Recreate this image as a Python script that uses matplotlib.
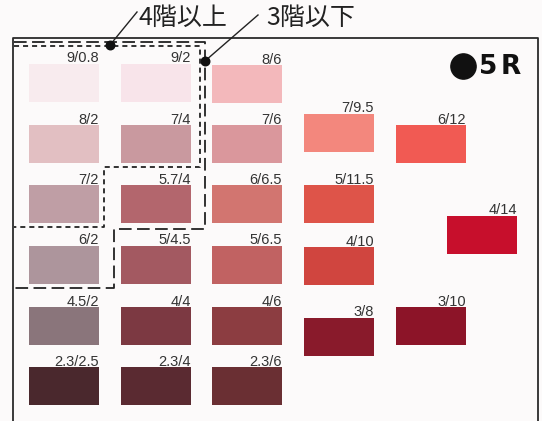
import matplotlib
matplotlib.use("Agg")
import matplotlib.pyplot as plt

# Munsell 5R swatches: notation label and colour
labels = ["9/0.8", "9/2", "8/6",
          "8/2", "7/4", "7/6", "7/9.5", "6/12",
          "7/2", "5.7/4", "6/6.5", "5/11.5", "4/14",
          "6/2", "5/4.5", "5/6.5", "4/10",
          "4.5/2", "4/4", "4/6", "3/8", "3/10",
          "2.3/2.5", "2.3/4", "2.3/6"]
colors = ["#f8ebee", "#f8e4ea", "#f3b8bb",
          "#e2bfc2", "#c9999f", "#da979c", "#f3877d", "#f15a53",
          "#bf9ea5", "#b3666d", "#d27570", "#de5449", "#c70f2c",
          "#ad959c", "#a35961", "#c16262", "#d0453f",
          "#8a757b", "#7c3942", "#8c3d41", "#891a2b", "#8c1428",
          "#4a282d", "#5a2a31", "#6a2f33"]

# layout on the sheet (pixels)
col_left = [29, 121, 212, 304, 396, 447]
swatch_col = [0, 1, 2,
              0, 1, 2, 3, 4,
              0, 1, 2, 3, 5,
              0, 1, 2, 3,
              0, 1, 2, 3, 4,
              0, 1, 2]
swatch_top = [64, 64, 65,
              125, 125, 125, 114, 125,
              185, 185, 185, 185, 216,
              246, 246, 246, 247,
              307, 307, 307, 318, 307,
              367, 367, 367]
sw_w, sw_h = 70, 38

# floor regions (dashed outlines)
upper_x = [14, 200, 200, 104, 104, 14]
upper_y = [45.5, 45.5, 167, 167, 227, 227]
lower_x = [14, 205, 205, 114, 114, 14]
lower_y = [41.5, 41.5, 229, 229, 288, 288]

plt.rcParams['font.family'] = ['Noto Sans CJK JP', 'DejaVu Sans']

fig = plt.figure(figsize=(5.42, 4.21), dpi=100)
fig.patch.set_facecolor('#fcfafa')
ax = fig.add_axes([0, 0, 1, 1])
ax.set_xlim(0, 542)
ax.set_ylim(421, 0)
ax.axis('off')

# frame
ax.plot([13, 13, 538, 538], [430, 38, 38, 430], color='#2a2a2a', lw=1.3)

# swatches
lefts = [col_left[c] for c in swatch_col]
ax.bar(lefts, sw_h, width=sw_w, bottom=swatch_top, align='edge',
       color=colors, linewidth=0)

for lab, x, y in zip(labels, lefts, swatch_top):
    ax.text(x + sw_w, y - 1.5, lab, ha='right', va='baseline',
            fontsize=10.5, color='#333333', family='Liberation Sans')

# dashed outlines
ax.plot(lower_x, lower_y, color='#222222', lw=1.3, dashes=(7, 3))
ax.plot(upper_x, upper_y, color='#222222', lw=1.3, dashes=(2.8, 2.2))

# leaders and captions
ax.plot([110, 137], [45, 12], color='#222222', lw=1.0)
ax.plot([205, 258], [61, 15], color='#222222', lw=1.0)
ax.scatter([110, 205], [45, 61], s=38, color='#111111', zorder=5)
ax.text(183, 18, "4階以上", ha='center', va='center', fontsize=18, color='#222222')
ax.text(311, 18, "3階以下", ha='center', va='center', fontsize=18, color='#222222')

# hue tag
ax.scatter([463], [66], s=330, color='#111111', zorder=5)
ax.text(488, 67, "5", ha='center', va='center', fontsize=19, fontweight='bold',
        color='#111111', family='DejaVu Sans')
ax.text(511, 67, "R", ha='center', va='center', fontsize=19, fontweight='bold',
        color='#111111', family='DejaVu Sans')

plt.savefig('out.png', dpi=100, facecolor=fig.get_facecolor())
